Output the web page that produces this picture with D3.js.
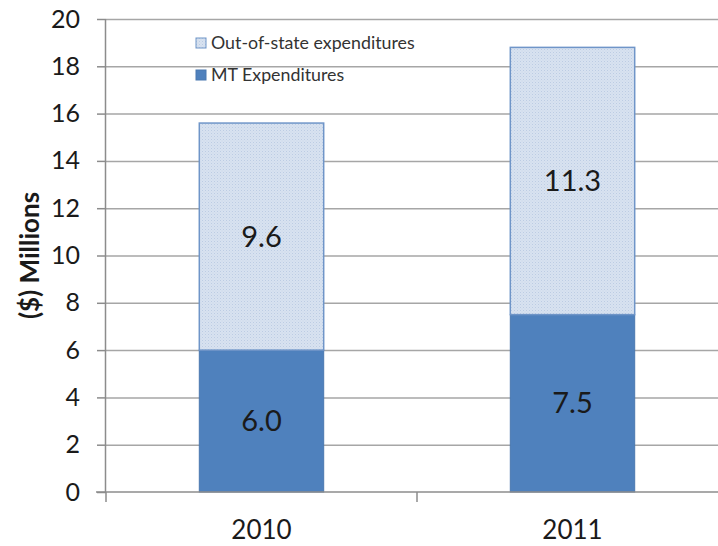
<!DOCTYPE html>
<html>
<head>
<meta charset="utf-8">
<script src="https://cdn.jsdelivr.net/npm/d3@7"></script>
<style>
  body { margin: 0; background: #fff; }
  #canvas { width: 718px; height: 546px; overflow: hidden; }
  text { font-family: Lato, "Open Sans", sans-serif; fill: #1a1a1a; }
</style>
</head>
<body>
<div id="canvas"></div>
<script>
const years = ["2010", "2011"];
const mtValues = [6.0, 7.5];
const outValues = [9.6, 11.3];
const yTicks = [0, 2, 4, 6, 8, 10, 12, 14, 16, 18, 20];
const seriesNames = ["Out-of-state expenditures", "MT Expenditures"];

const W = 718, H = 546;
const margin = { top: 19, right: -10, bottom: 54, left: 106 };
const width = W - margin.left - margin.right;
const height = H - margin.top - margin.bottom;

const svg = d3.select("#canvas")
  .append("svg")
    .attr("width", W)
    .attr("height", H);

// dotted fill for the out-of-state part
const defs = svg.append("defs");
const pat = defs.append("pattern")
    .attr("id", "dots")
    .attr("width", 3)
    .attr("height", 3)
    .attr("patternUnits", "userSpaceOnUse");
pat.append("rect").attr("width", 3).attr("height", 3).attr("fill", "#d8e2f0");
pat.append("rect").attr("x", 0).attr("y", 0).attr("width", 1).attr("height", 1).attr("fill", "#bccce3");
pat.append("rect").attr("x", 1.5).attr("y", 1.5).attr("width", 1).attr("height", 1).attr("fill", "#c8d6ea");

const g = svg.append("g")
    .attr("transform", `translate(${margin.left}, ${margin.top})`);

const xScale = d3.scaleBand()
  .domain(years)
  .range([0, width])
  .paddingInner(0.6)
  .paddingOuter(0.3);

const xOuter = d3.scaleBand()
  .domain(years)
  .range([0, width]);

const yScale = d3.scaleLinear()
  .domain([0, 20])
  .range([height, 0]);

// horizontal grid lines
g.append("g")
  .attr("class", "grid")
  .call(d3.axisLeft(yScale).tickValues(yTicks.slice(1)).tickSize(-width).tickFormat(""))
  .call(s => s.select(".domain").remove())
  .selectAll("line")
  .style("stroke", "#a6a6a6")
  .style("stroke-width", "1.5px");

// y axis
const yAxis = g.append("g")
  .attr("class", "y-axis")
  .call(d3.axisLeft(yScale).tickValues(yTicks).tickSize(9).tickPadding(17).tickFormat(d3.format("d")));
yAxis.select(".domain").style("stroke", "#8c8c8c").style("stroke-width", "1.5px").attr("d", `M-0.5,${height}V0`);
yAxis.selectAll(".tick line").style("stroke", "#8c8c8c").style("stroke-width", "1.5px");
yAxis.selectAll("text")
  .style("font-size", "25px")
  .style("font-family", "Lato, 'Open Sans', sans-serif")
  .style("fill", "#1a1a1a");

// bars
const stacks = years.map((y, i) => ({ year: y, mt: mtValues[i], out: outValues[i] }));

g.selectAll(".bar-mt")
  .data(stacks)
  .enter().append("rect")
  .attr("class", "bar-mt")
  .attr("x", d => xScale(d.year))
  .attr("y", d => yScale(d.mt))
  .attr("width", xScale.bandwidth())
  .attr("height", d => yScale(0) - yScale(d.mt))
  .style("fill", "#4f81bd")
  .style("stroke", "#4a78b0")
  .style("stroke-width", 1);

g.selectAll(".bar-out")
  .data(stacks)
  .enter().append("rect")
  .attr("class", "bar-out")
  .attr("x", d => xScale(d.year))
  .attr("y", d => yScale(d.mt + d.out))
  .attr("width", xScale.bandwidth())
  .attr("height", d => yScale(d.mt) - yScale(d.mt + d.out))
  .style("fill", "url(#dots)")
  .style("stroke", "#6f95c8")
  .style("stroke-width", 1.5);

// x axis
const xAxis = g.append("g")
  .attr("class", "x-axis")
  .attr("transform", `translate(0, ${height})`);
xAxis.append("line")
  .attr("x1", -10).attr("x2", width)
  .style("stroke", "#8c8c8c").style("stroke-width", "1.5px");
xAxis.selectAll(".xtick")
  .data(years)
  .enter().append("line")
  .attr("x1", d => xOuter(d)).attr("x2", d => xOuter(d))
  .attr("y1", 0).attr("y2", 10)
  .style("stroke", "#8c8c8c").style("stroke-width", "1.5px");
xAxis.selectAll(".xlabel")
  .data(years)
  .enter().append("text")
  .attr("x", d => xScale(d) + xScale.bandwidth() / 2)
  .attr("y", 47)
  .attr("text-anchor", "middle")
  .style("font-size", "26px")
  .text(d => d);

// value labels
g.selectAll(".lbl-mt")
  .data(stacks)
  .enter().append("text")
  .attr("x", d => xScale(d.year) + xScale.bandwidth() / 2)
  .attr("y", d => yScale(d.mt / 2))
  .attr("dy", "0.35em")
  .attr("text-anchor", "middle")
  .style("font-size", "29px")
  .text(d => d.mt.toFixed(1));

g.selectAll(".lbl-out")
  .data(stacks)
  .enter().append("text")
  .attr("x", d => xScale(d.year) + xScale.bandwidth() / 2)
  .attr("y", d => yScale(d.mt + d.out / 2))
  .attr("dy", "0.35em")
  .attr("text-anchor", "middle")
  .style("font-size", "29px")
  .text(d => d.out.toFixed(1));

// y title
svg.append("text")
  .attr("transform", `translate(39, ${margin.top + height / 2}) rotate(-90)`)
  .attr("text-anchor", "middle")
  .style("font-size", "26px")
  .style("font-weight", "bold")
  .text("($) Millions");

// legend
const legend = svg.append("g").attr("transform", "translate(196, 38)");
const legendFills = ["url(#dots)", "#4f81bd"];
const legendStrokes = ["#6f95c8", "#4a78b0"];
seriesNames.forEach((name, i) => {
  const row = legend.append("g").attr("transform", `translate(0, ${i * 32})`);
  row.append("rect")
    .attr("width", 10).attr("height", 10)
    .style("fill", legendFills[i])
    .style("stroke", legendStrokes[i])
    .style("stroke-width", 1);
  row.append("text")
    .attr("x", 15).attr("y", 5)
    .attr("dy", "0.35em")
    .style("font-size", "17.8px")
    .style("fill", "#333")
    .text(name);
});
</script>
</body>
</html>
